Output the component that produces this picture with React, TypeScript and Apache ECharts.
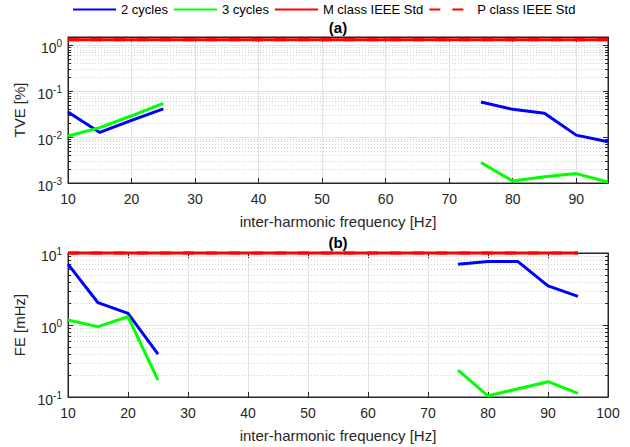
import React, { useEffect, useRef } from "react";
import * as echarts from "echarts";

// ---------- data ----------
const freqLow = [10, 15, 20, 25];
const freqHigh = [75, 80, 85, 90, 95];

const tve2Low = [0.035, 0.0126, 0.023, 0.041];
const tve2High = [0.058, 0.04, 0.033, 0.011, 0.0079];
const tve3Low = [0.0105, 0.016, 0.029, 0.054];
const tve3High = [0.0028, 0.0011, 0.00137, 0.0016, 0.00105];

const fe2Low = [7.0, 2.04, 1.45, 0.395];
const fe2High = [7.0, 7.6, 7.6, 3.5, 2.5];
const fe3Low = [1.17, 0.95, 1.3, 0.172];
const fe3High = [0.237, 0.104, 0.13, 0.163, 0.112];

const limitFreqs = [10, 95];
const tveMLimit = [1.3, 1.3];
const tvePLimit = [1.3, 1.3];
const feMLimit = [10, 10];
const fePLimit = [10, 10];

const tveMinor = [0.002, 0.003, 0.004, 0.005, 0.006, 0.007, 0.008, 0.009,
  0.02, 0.03, 0.04, 0.05, 0.06, 0.07, 0.08, 0.09,
  0.2, 0.3, 0.4, 0.5, 0.6, 0.7, 0.8, 0.9];
const feMinor = [0.2, 0.3, 0.4, 0.5, 0.6, 0.7, 0.8, 0.9,
  2, 3, 4, 5, 6, 7, 8, 9];

const seriesNames = ["2 cycles", "3 cycles", "M class IEEE Std", "P class IEEE Std"];

const FONT = "Liberation Sans, Arial, Helvetica, sans-serif";
const TXT = "#262626";
const BLUE = "#0000ff";
const GREEN = "#00ff00";
const RED = "#ff0000";

function joinSeg(xa: number[], ya: number[], xb: number[], yb: number[]) {
  const out: any[] = xa.map((x, i) => [x, ya[i]]);
  out.push([50, "-"]);
  xb.forEach((x, i) => out.push([x, yb[i]]));
  return out;
}
function pairs(xs: number[], ys: number[]) {
  return xs.map((x, i) => [x, ys[i]]);
}

function logLabel(v: number) {
  const l = Math.log10(v);
  const e = Math.round(l);
  if (Math.abs(l - e) > 1e-6) return "";
  return `{b|10}{s|${e}}`;
}

const richLabel = {
  b: { fontSize: 14, lineHeight: 20, verticalAlign: "bottom", color: TXT, fontFamily: FONT },
  s: { fontSize: 10, lineHeight: 12, verticalAlign: "top", padding: [3, 0, 0, 0], color: TXT, fontFamily: FONT },
};

function minorSeries(xIdx: number, yIdx: number, vals: number[]) {
  return {
    type: "custom",
    xAxisIndex: xIdx,
    yAxisIndex: yIdx,
    silent: true,
    z: 1,
    clip: false,
    data: vals.map((v) => [10, v]),
    encode: { x: 0, y: 1 },
    renderItem: (params: any, api: any) => {
      const cs = params.coordSys;
      const y = Math.round(api.coord([api.value(0), api.value(1)])[1]) + 0.5;
      return {
        type: "group",
        children: [
          {
            type: "line",
            shape: { x1: cs.x, y1: y, x2: cs.x + cs.width, y2: y },
            style: { stroke: "#cfcfcf", lineWidth: 1, lineDash: [1, 2] },
          },
          {
            type: "line",
            shape: { x1: cs.x, y1: y, x2: cs.x + 3, y2: y },
            style: { stroke: TXT, lineWidth: 1 },
          },
          {
            type: "line",
            shape: { x1: cs.x + cs.width - 3, y1: y, x2: cs.x + cs.width, y2: y },
            style: { stroke: TXT, lineWidth: 1 },
          },
        ],
      };
    },
  };
}

function xAxisMain(grid: number, max: number, showMax: boolean, nameGap: number) {
  return {
    gridIndex: grid,
    type: "value",
    min: 10,
    max,
    interval: 10,
    position: "bottom",
    axisLine: { show: true, lineStyle: { color: TXT, width: 1 } },
    axisTick: { show: true, inside: true, length: 5, lineStyle: { color: TXT } },
    axisLabel: { fontSize: 14, color: TXT, fontFamily: FONT, margin: 9, showMaxLabel: showMax },
    splitLine: { show: true, lineStyle: { color: "#e3e3e3", width: 1 } },
    name: "inter-harmonic frequency [Hz]",
    nameLocation: "middle",
    nameGap,
    nameTextStyle: { fontSize: 15, color: TXT, fontFamily: FONT },
  };
}
function xAxisTop(grid: number, max: number) {
  return {
    gridIndex: grid,
    type: "value",
    min: 10,
    max,
    interval: 10,
    position: "top",
    axisLine: { show: true, lineStyle: { color: TXT, width: 1 } },
    axisTick: { show: true, inside: true, length: 5, lineStyle: { color: TXT } },
    axisLabel: { show: false },
    splitLine: { show: false },
  };
}
function yAxisMain(grid: number, min: number, max: number, name: string) {
  return {
    gridIndex: grid,
    type: "log",
    logBase: 10,
    min,
    max,
    position: "left",
    axisLine: { show: true, lineStyle: { color: TXT, width: 1 } },
    axisTick: { show: true, inside: true, length: 5, lineStyle: { color: TXT } },
    axisLabel: { formatter: logLabel, rich: richLabel, margin: 6 },
    splitLine: { show: true, lineStyle: { color: "#e3e3e3", width: 1 } },
    name,
    nameLocation: "middle",
    nameRotate: 90,
    nameGap: 34,
    nameTextStyle: { fontSize: 15, color: TXT, fontFamily: FONT },
  };
}
function yAxisRight(grid: number, min: number, max: number) {
  return {
    gridIndex: grid,
    type: "log",
    logBase: 10,
    min,
    max,
    position: "right",
    axisLine: { show: true, lineStyle: { color: TXT, width: 1 } },
    axisTick: { show: true, inside: true, length: 5, lineStyle: { color: TXT } },
    axisLabel: { show: false },
    splitLine: { show: false },
  };
}

function lineSeries(name: string, xIdx: number, yIdx: number, data: any[], color: string, dashed = false, z = 3) {
  return {
    name,
    type: "line",
    xAxisIndex: xIdx,
    yAxisIndex: yIdx,
    data,
    symbol: "none",
    showSymbol: false,
    connectNulls: false,
    clip: false,
    z,
    lineStyle: { color, width: 3, type: dashed ? [11, 12] : "solid" },
    itemStyle: { color },
  };
}

export default function App() {
  const ref = useRef<HTMLDivElement>(null);
  useEffect(() => {
    if (!ref.current) return;
    const chart = echarts.init(ref.current, undefined, { renderer: "svg" });
    const option: any = {
      animation: false,
      backgroundColor: "#ffffff",
      textStyle: { fontFamily: FONT },
      legend: {
        data: seriesNames,
        left: 72,
        top: 3,
        padding: 0,
        itemWidth: 43,
        itemHeight: 14,
        itemGap: 5,
        itemStyle: { opacity: 0, borderWidth: 0 },
        textStyle: { fontSize: 13, color: "#000", fontFamily: FONT },
      },
      graphic: [
        { type: "text", x: 338, y: 27, style: { text: "(a)", align: "center", verticalAlign: "middle", font: `bold 15px ${FONT}`, fill: "#000" } },
        { type: "text", x: 338, y: 242, style: { text: "(b)", align: "center", verticalAlign: "middle", font: `bold 15px ${FONT}`, fill: "#000" } },
      ],
      grid: [
        { left: 68, top: 37, width: 540, height: 146, show: true, borderColor: TXT, borderWidth: 1, backgroundColor: "#fff" },
        { left: 68, top: 253, width: 540, height: 144, show: true, borderColor: TXT, borderWidth: 1, backgroundColor: "#fff" },
      ],
      xAxis: [
        xAxisMain(0, 95, false, 31),
        xAxisTop(0, 95),
        xAxisMain(1, 100, true, 31),
        xAxisTop(1, 100),
      ],
      yAxis: [
        yAxisMain(0, 0.001, 1.5, "TVE [%]"),
        yAxisRight(0, 0.001, 1.5),
        yAxisMain(1, 0.1, 10, "FE [mHz]"),
        yAxisRight(1, 0.1, 10),
      ],
      series: [
        minorSeries(0, 0, tveMinor),
        minorSeries(2, 2, feMinor),
        lineSeries("P class IEEE Std", 0, 0, pairs(limitFreqs, tvePLimit), RED, true, 2),
        lineSeries("M class IEEE Std", 0, 0, pairs(limitFreqs, tveMLimit), RED, false, 3),
        lineSeries("2 cycles", 0, 0, joinSeg(freqLow, tve2Low, freqHigh, tve2High), BLUE),
        lineSeries("3 cycles", 0, 0, joinSeg(freqLow, tve3Low, freqHigh, tve3High), GREEN),
        lineSeries("P class IEEE Std", 2, 2, pairs(limitFreqs, fePLimit), RED, true, 2),
        lineSeries("M class IEEE Std", 2, 2, pairs(limitFreqs, feMLimit), RED, false, 3),
        lineSeries("2 cycles", 2, 2, joinSeg(freqLow, fe2Low, freqHigh, fe2High), BLUE),
        lineSeries("3 cycles", 2, 2, joinSeg(freqLow, fe3Low, freqHigh, fe3High), GREEN),
      ],
    };
    chart.setOption(option);
    return () => chart.dispose();
  }, []);
  return (
    <div
      ref={ref}
      style={{ position: "fixed", left: 0, top: 0, width: 630, height: 447, background: "#fff" }}
    />
  );
}
